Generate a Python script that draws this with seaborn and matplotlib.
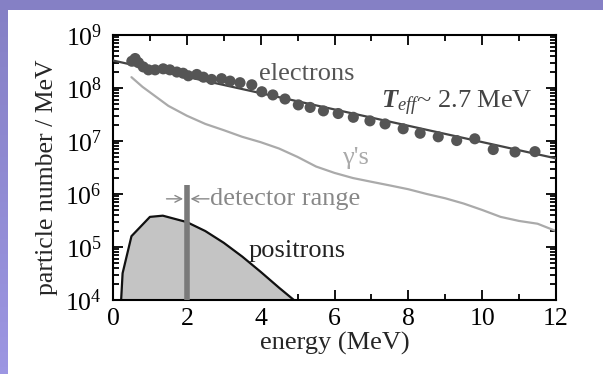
import matplotlib
matplotlib.use("Agg")
import matplotlib.pyplot as plt
import numpy as np
import pandas as pd
import seaborn as sns
from matplotlib.colors import LinearSegmentedColormap
from matplotlib.patches import Rectangle
from matplotlib.ticker import LogLocator, MultipleLocator, NullFormatter

# electron data points (energy in MeV, particles / MeV)
electron_energy = [0.51, 0.60, 0.69, 0.82, 0.96, 1.14, 1.36, 1.54, 1.73, 1.90,
                   2.04, 2.27, 2.45, 2.67, 2.94, 3.17, 3.44, 3.76, 4.03, 4.33,
                   4.66, 5.02, 5.34, 5.70, 6.10, 6.51, 6.96, 7.37, 7.86, 8.32,
                   8.81, 9.31, 9.80, 10.30, 10.89, 11.43]
electron_number = [3.2e8, 3.6e8, 3.0e8, 2.5e8, 2.2e8, 2.2e8, 2.3e8, 2.2e8, 2.0e8, 1.9e8,
                   1.7e8, 1.8e8, 1.6e8, 1.45e8, 1.5e8, 1.35e8, 1.26e8, 1.15e8, 8.5e7, 7.4e7,
                   6.2e7, 4.8e7, 4.3e7, 3.7e7, 3.3e7, 2.8e7, 2.4e7, 2.1e7, 1.7e7, 1.4e7,
                   1.2e7, 1.02e7, 1.1e7, 6.9e6, 6.2e6, 6.3e6]

# exponential fit (T_eff ~ 2.7 MeV), straight on log axis
fit_energy = [0.0, 12.0]
fit_number = [3.3e8, 4.7e6]

# gamma spectrum
gamma_energy = [0.5, 0.8, 1.0, 1.5, 2.0, 2.5, 3.0, 3.5, 4.0, 4.5, 5.0, 5.5, 6.0,
                6.5, 7.0, 7.5, 8.0, 8.5, 9.0, 9.5, 10.0, 10.5, 11.0, 11.5, 12.0]
gamma_number = [1.6e8, 1.05e8, 8.3e7, 4.6e7, 3.0e7, 2.1e7, 1.6e7, 1.2e7, 9.5e6,
                7.2e6, 5.0e6, 3.3e6, 2.5e6, 2.0e6, 1.7e6, 1.45e6, 1.23e6, 1.0e6,
                8.3e5, 6.6e5, 5.0e5, 3.7e5, 3.1e5, 2.75e5, 2.0e5]

# positron spectrum
positron_energy = [0.22, 0.26, 0.5, 1.0, 1.35, 2.0, 2.5, 3.0, 3.5, 4.0, 4.5, 4.9]
positron_number = [1.0e4, 3.2e4, 1.6e5, 3.7e5, 3.9e5, 2.95e5, 2.0e5, 1.2e5,
                   6.6e4, 3.4e4, 1.7e4, 1.0e4]

# detector range marker
detector_energy = 2.0
detector_span = [1.0e4, 1.5e6]

electrons = pd.DataFrame({"energy": electron_energy, "number": electron_number})
fit = pd.DataFrame({"energy": fit_energy, "number": fit_number})
gammas = pd.DataFrame({"energy": gamma_energy, "number": gamma_number})
positrons = pd.DataFrame({"energy": positron_energy, "number": positron_number})

sns.set_theme(style="ticks")
plt.rcParams["font.family"] = ["Liberation Serif", "DejaVu Serif"]
plt.rcParams["mathtext.fontset"] = "custom"
plt.rcParams["mathtext.rm"] = "Liberation Serif"
plt.rcParams["mathtext.it"] = "Liberation Serif:italic"
plt.rcParams["mathtext.bf"] = "Liberation Serif:italic:bold"

fig = plt.figure(figsize=(6.03, 3.74), dpi=100)

# slide background: purple gradient frame with white panel
bg = fig.add_axes([0, 0, 1, 1], zorder=-5)
frame_cmap = LinearSegmentedColormap.from_list("frame", ["#8580c5", "#9c96e2"])
bg.imshow(np.linspace(0, 1, 50).reshape(-1, 1), aspect="auto", cmap=frame_cmap,
          extent=[0, 1, 0, 1], origin="upper")
bg.add_patch(Rectangle((8 / 603, 0), 1, 1 - 10 / 374, facecolor="white", edgecolor="none"))
bg.set_xlim(0, 1)
bg.set_ylim(0, 1)
bg.axis("off")

ax = fig.add_axes([113 / 603, 1 - 300 / 374, 443 / 603, 265 / 374])
ax.set_facecolor("white")

ax.fill_between(positrons["energy"], 1e4, positrons["number"], color="#c4c4c4", zorder=1)
sns.lineplot(data=positrons, x="energy", y="number", color="#111111", lw=1.6, ax=ax, zorder=2)
sns.lineplot(data=gammas, x="energy", y="number", color="#aaaaaa", lw=1.6, ax=ax, zorder=2)
sns.lineplot(data=fit, x="energy", y="number", color="#444444", lw=1.6, ax=ax, zorder=3)
sns.scatterplot(data=electrons, x="energy", y="number", color="#555555", s=64,
                edgecolor="none", ax=ax, zorder=4)
ax.vlines(detector_energy, detector_span[0], detector_span[1], color="#7a7a7a", lw=4, zorder=3)

arrow_y = 8.1e5
ax.annotate("", xy=(1.9, arrow_y), xytext=(1.45, arrow_y),
            arrowprops=dict(arrowstyle="->", color="#888888", lw=1, shrinkA=0, shrinkB=0))
ax.annotate("", xy=(2.1, arrow_y), xytext=(2.6, arrow_y),
            arrowprops=dict(arrowstyle="->", color="#888888", lw=1, shrinkA=0, shrinkB=0))

ax.set_yscale("log")
ax.set_xlim(0, 12)
ax.set_ylim(1e4, 1e9)

fs = 19
ax.text(2.62, arrow_y, "detector range", color="#888888", fontsize=fs, va="center", ha="left")
ax.text(5.26, 1.85e8, "electrons", color="#555555", fontsize=fs, va="center", ha="center")
ax.text(7.25, 5.2e7, r"$\mathbf{T}_{eff}$~ 2.7 MeV", color="#444444", fontsize=fs,
        va="center", ha="left")
ax.text(6.58, 4.8e6, "γ's", color="#aaaaaa", fontsize=fs, va="center", ha="center")
ax.text(4.99, 8.5e4, "positrons", color="#222222", fontsize=fs, va="center", ha="center")

ax.xaxis.set_major_locator(MultipleLocator(2))
ax.xaxis.set_minor_locator(MultipleLocator(1))
ax.yaxis.set_major_locator(LogLocator(base=10, numticks=10))
ax.yaxis.set_minor_locator(LogLocator(base=10, subs=range(2, 10), numticks=10))
ax.yaxis.set_minor_formatter(NullFormatter())
ax.tick_params(which="both", direction="in", top=True, right=True, width=1.3, colors="black")
ax.tick_params(which="major", length=7, labelsize=18.5)
ax.tick_params(axis="x", which="major", pad=6)
ax.tick_params(axis="y", which="major", pad=8)
ax.tick_params(which="minor", length=4)
for side in ax.spines.values():
    side.set_linewidth(1.5)
    side.set_color("black")

ax.set_xlabel("energy (MeV)", fontsize=fs, labelpad=1)
ax.set_ylabel("particle number / MeV", fontsize=18.5)
ax.yaxis.set_label_coords(-0.125, 0.462)

fig.savefig("out.png", dpi=100)
